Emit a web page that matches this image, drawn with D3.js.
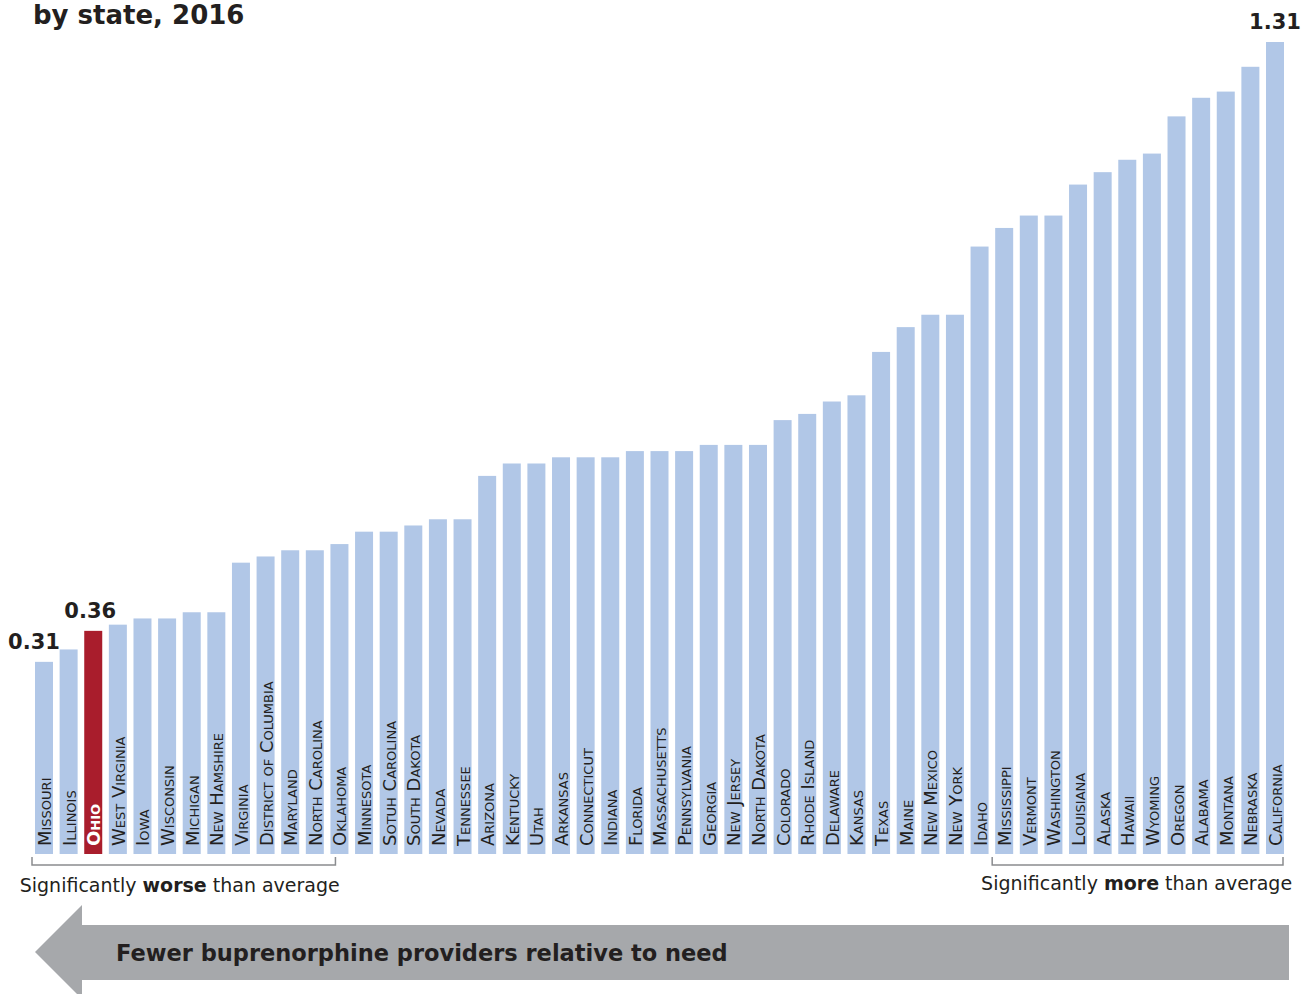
<!DOCTYPE html>
<html>
<head>
<meta charset="utf-8">
<script src="https://cdn.jsdelivr.net/npm/d3@7"></script>
<style>
  html, body { margin: 0; padding: 0; background: #fff; }
  svg { display: block; font-family: "DejaVu Sans", sans-serif; }
</style>
</head>
<body>
<svg id="chart" width="1307" height="994"></svg>
<script>
// Buprenorphine providers relative to need, by state, 2016
const states = [
  "Missouri", "Illinois", "Ohio", "West Virginia", "Iowa", "Wisconsin", "Michigan",
  "New Hamshire", "Virginia", "District of Columbia", "Maryland", "North Carolina",
  "Oklahoma", "Minnesota", "Sotuh Carolina", "South Dakota", "Nevada", "Tennessee",
  "Arizona", "Kentucky", "Utah", "Arkansas", "Connecticut", "Indiana", "Florida",
  "Massachusetts", "Pennsylvania", "Georgia", "New Jersey", "North Dakota", "Colorado",
  "Rhode Island", "Delaware", "Kansas", "Texas", "Maine", "New Mexico", "New York",
  "Idaho", "Mississippi", "Vermont", "Washington", "Louisiana", "Alaska", "Hawaii",
  "Wyoming", "Oregon", "Alabama", "Montana", "Nebraska", "California"
];
const ratios = [
  0.31, 0.33, 0.36, 0.37, 0.38, 0.38, 0.39,
  0.39, 0.47, 0.48, 0.49, 0.49,
  0.50, 0.52, 0.52, 0.53, 0.54, 0.54,
  0.61, 0.63, 0.63, 0.64, 0.64, 0.64, 0.65,
  0.65, 0.65, 0.66, 0.66, 0.66, 0.70,
  0.71, 0.73, 0.74, 0.81, 0.85, 0.87, 0.87,
  0.98, 1.01, 1.03, 1.03, 1.08, 1.10, 1.12,
  1.13, 1.19, 1.22, 1.23, 1.27, 1.31
];
const highlightState = "Ohio";
// value callouts: state and horizontal nudge of the label
const callouts = [
  { state: "Missouri", dx: -10 },
  { state: "Ohio", dx: -3 },
  { state: "California", dx: 0 }
];
const groups = [
  { label: ["Significantly ", "worse", " than average"], from: "Missouri", to: "Oklahoma" },
  { label: ["Significantly ", "more", " than average"], from: "Mississippi", to: "California" }
];
const titleText = "by state, 2016";
const arrowText = "Fewer buprenorphine providers relative to need";

const data = states.map((s, i) => ({ state: s, value: ratios[i] }));

const svg = d3.select("#chart");
const ink = "#231f20";
const barColor = "#b1c7e7";
const highlightColor = "#a91d2c";

const x = d3.scaleBand().domain(states).range([35, 1284]).paddingInner(0.269).paddingOuter(0);
const y = d3.scaleLinear().domain([0, 1.31]).range([854, 42]);
const bw = x.bandwidth();

// title (last line of the heading)
svg.append("text")
  .attr("x", 33).attr("y", 24)
  .attr("fill", ink)
  .attr("font-size", 26).attr("font-weight", "bold")
  .text(titleText);

// bars
svg.append("g").selectAll("rect").data(data).join("rect")
  .attr("x", d => x(d.state))
  .attr("y", d => y(d.value))
  .attr("width", bw)
  .attr("height", d => y(0) - y(d.value))
  .attr("fill", d => d.state === highlightState ? highlightColor : barColor);

// state names inside bars, rotated
svg.append("g").selectAll("text").data(data).join("text")
  .attr("transform", d => `translate(${x(d.state) + bw - 2},${y(0) - 8}) rotate(-90)`)
  .attr("font-size", 18)
  .style("font-variant", "small-caps")
  .attr("fill", d => d.state === highlightState ? "#fff" : ink)
  .attr("font-weight", d => d.state === highlightState ? "bold" : "normal")
  .text(d => d.state);

// value callouts
svg.append("g").selectAll("text").data(callouts).join("text")
  .attr("x", d => x(d.state) + bw / 2 + d.dx)
  .attr("y", d => y(ratios[states.indexOf(d.state)]) - 13)
  .attr("text-anchor", "middle")
  .attr("fill", ink)
  .attr("font-size", 21).attr("font-weight", "bold")
  .text(d => ratios[states.indexOf(d.state)].toFixed(2));

// brackets with captions
const bracketY = 865;
groups.forEach((g, gi) => {
  const x0 = x(g.from) - 3;
  const x1 = gi === 0 ? x(g.to) + 5 : x(g.to) + bw - 1;
  svg.append("path")
    .attr("d", `M${x0},${bracketY - 8}V${bracketY}H${x1}V${bracketY - 8}`)
    .attr("fill", "none").attr("stroke", "#8a8c8f").attr("stroke-width", 1.5);
  const t = svg.append("text")
    .attr("x", (x0 + x1) / 2 + (gi === 0 ? -4 : -1))
    .attr("y", bracketY + (gi === 0 ? 27 : 25))
    .attr("text-anchor", "middle")
    .attr("fill", ink)
    .attr("font-size", 19);
  g.label.forEach((part, pi) => {
    t.append("tspan").attr("font-weight", pi === 1 ? "bold" : "normal").text(part);
  });
});

// direction arrow
const arrow = d3.path();
arrow.moveTo(35, 952);
arrow.lineTo(82, 905);
arrow.lineTo(82, 925);
arrow.lineTo(1289, 925);
arrow.lineTo(1289, 980);
arrow.lineTo(82, 980);
arrow.lineTo(82, 999);
arrow.closePath();
svg.append("path").attr("d", arrow.toString()).attr("fill", "#a6a8ab");

svg.append("text")
  .attr("x", 116).attr("y", 961)
  .attr("fill", ink)
  .attr("font-size", 22.5).attr("font-weight", "bold")
  .text(arrowText);
</script>
</body>
</html>
